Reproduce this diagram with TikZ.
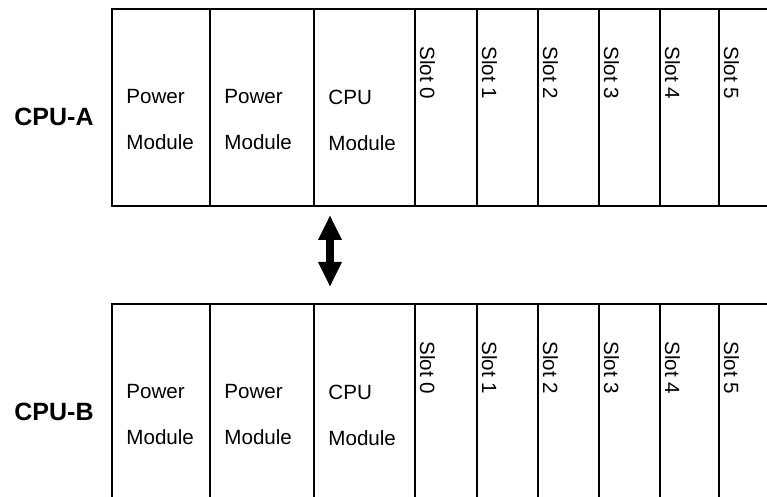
\documentclass[tikz,border=0pt]{standalone}
\usepackage{fontspec}
\setmainfont{Liberation Sans}
\usetikzlibrary{arrows.meta}

\tikzset{
	rackline/.style={line width=1.4pt},
	modlabel/.style={anchor=west, inner sep=0pt, align=left, font=\fontsize{10.3}{23}\selectfont},
	slotlabel/.style={rotate=-90, anchor=base west, inner sep=0pt, font=\fontsize{10.3}{12}\selectfont},
	cpulabel/.style={inner sep=0pt, font=\fontsize{12.5}{14}\selectfont\bfseries},
	linktip/.tip={Triangle[length=12.5pt,width=11pt]}
}

\begin{document}
\begin{tikzpicture}[x=0.5pt,y=-0.5pt]

	\useasboundingbox (0,0) rectangle (767,497);

	% ---- rack frames

	\draw[rackline] (767,9) -- (112,9) -- (112,206) -- (767,206);
	\draw[rackline] (767,304) -- (112,304) -- (112,497);

	% ---- dividers

	\foreach \x in {210,314,415,477,538,599,660,719} {
		\draw[rackline] (\x,9) -- (\x,206);
		\draw[rackline] (\x,304) -- (\x,497);
	}

	% ---- labels

	\foreach \r/\dy in {A/0,B/295} {
		\node[cpulabel] (cpu\r) at (54,117+\dy) {CPU-\r};
		\node[modlabel] (pwr\r1) at (126,120+\dy) {Power\\Module};
		\node[modlabel] (pwr\r2) at (224,120+\dy) {Power\\Module};
		\node[modlabel] (mod\r) at (328,120+\dy) {CPU\\Module};
		\foreach \x [count=\i from 0] in {415,477,538,599,660,719} {
			\node[slotlabel] (slot\r\i) at (\x+5,46+\dy) {Slot \i};
		}
	}

	% ---- link

	\coordinate (linkA) at (330,215);
	\coordinate (linkB) at (330,287);
	\draw[line width=4pt, linktip-linktip] (linkA) -- (linkB);

\end{tikzpicture}
\end{document}
